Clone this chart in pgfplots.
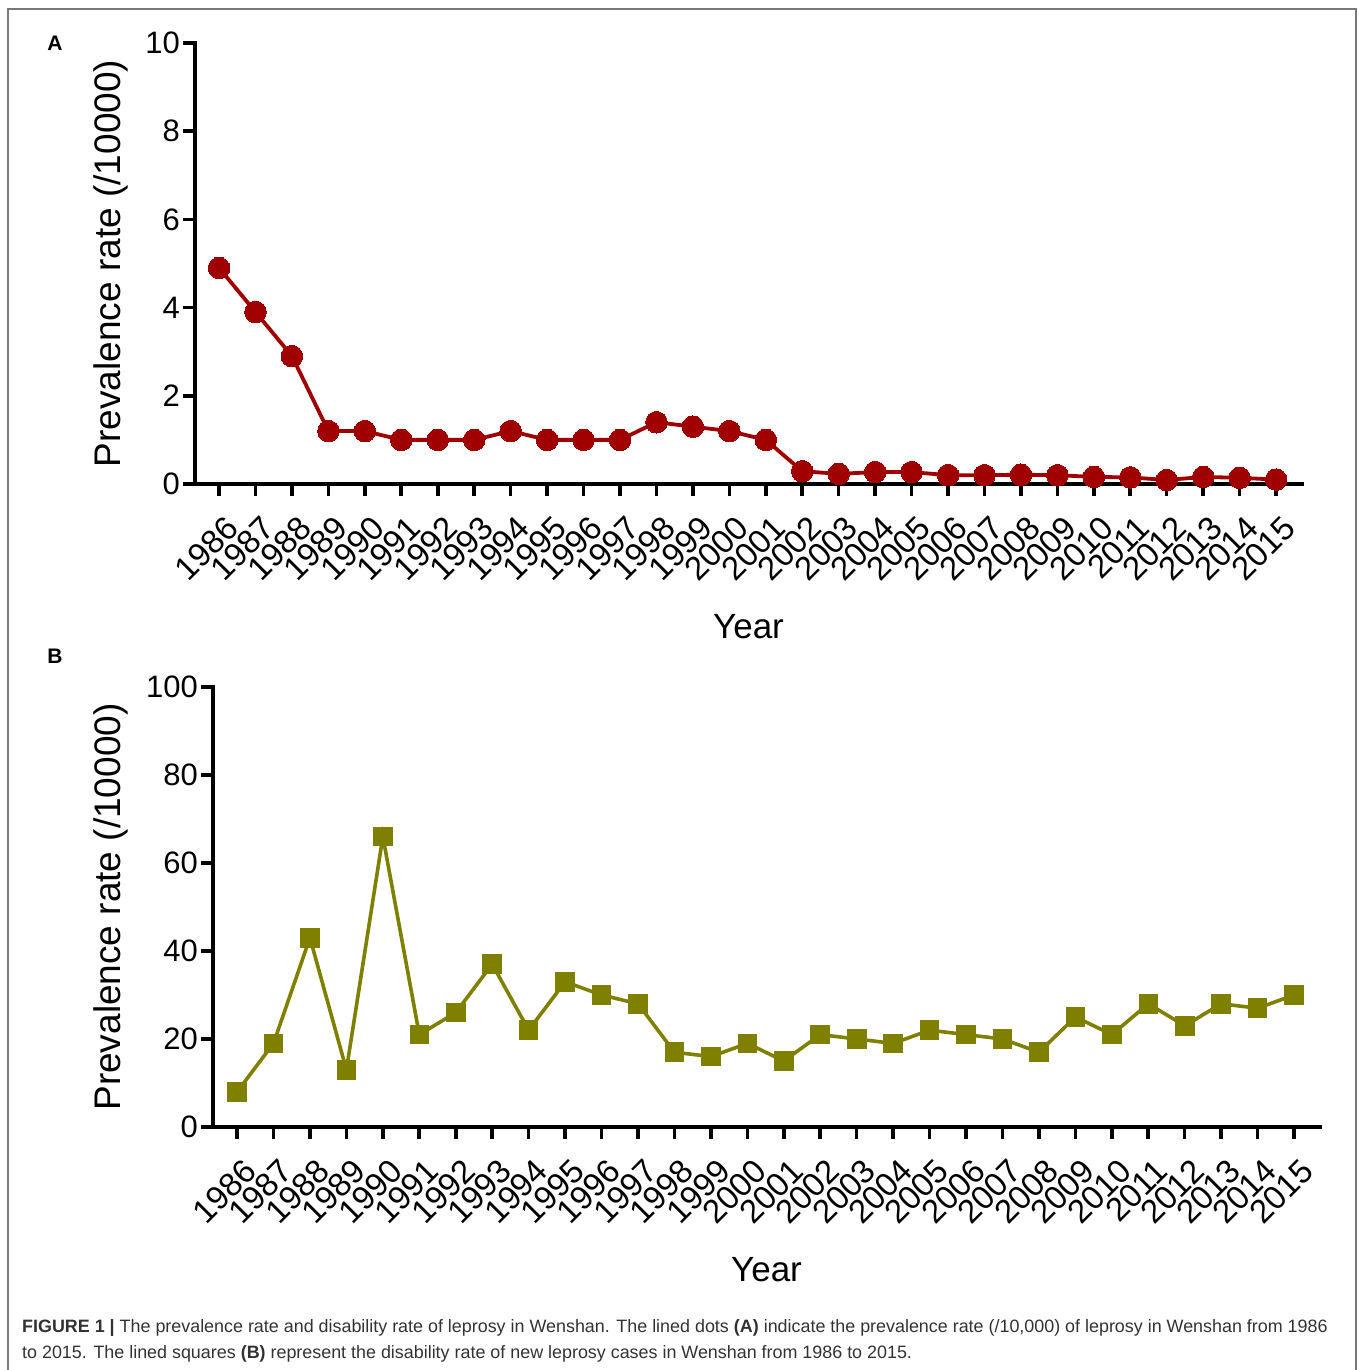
\documentclass[border=0pt]{standalone}
\usepackage{pgfplots}
\pgfplotsset{compat=1.18}
\usepackage{fontspec}
\setmainfont{Liberation Sans}
\definecolor{cA}{RGB}{160,0,0}
\definecolor{cB}{RGB}{128,128,0}
\definecolor{frame}{RGB}{120,120,120}
\definecolor{captxt}{RGB}{50,50,50}
\pgfplotsset{
  base/.style={
    scale only axis, width=1107pt,
    axis lines=left, axis line style={-, line width=3.8pt, line cap=rect},
    xmin=1985.34, xmax=2015.71,
    xtick={1986,...,2015},
    tick align=outside, major tick length=12pt,
    every tick/.style={black, line width=3.6pt},
    /pgf/number format/assume math mode=true,
    /pgf/number format/1000 sep={},
    xticklabel style={font=\fontsize{33}{33}\selectfont, rotate=45, anchor=east, inner sep=1pt, yshift=-28pt, xshift=-8pt},
    yticklabel style={font=\fontsize{31}{31}\selectfont, inner sep=3pt},
    xlabel={Year},
    ylabel={Prevalence rate (/10000)},
    every axis x label/.style={at={(axis description cs:0.5,-0.3243)}, anchor=center, font=\fontsize{35}{35}\selectfont},
    clip=false,
  }
}
\begin{document}
\begin{tikzpicture}[x=1pt,y=1pt]
\useasboundingbox (0pt,0pt) rectangle (1358pt,1370pt);
\draw[frame, line width=1.6pt] (8pt,-5pt) -- (8pt,1361pt) -- (1356pt,1361pt) -- (1356pt,-5pt);
\node[font=\bfseries\fontsize{21}{21}\selectfont] at (55pt,1327pt) {A};
\node[font=\bfseries\fontsize{21}{21}\selectfont] at (55pt,714pt) {B};
% Panel A
\begin{axis}[base, at={(195pt,886pt)}, anchor=south west, height=441pt,
  ymin=0, ymax=10, ytick={0,2,...,10},
  every axis y label/.style={at={(axis description cs:-0.0759,0.5)}, rotate=90, anchor=center, font=\fontsize{37}{37}\selectfont}]
\addplot[cA, line width=3.8pt, mark=*, mark size=10.8pt, mark options={solid, fill=cA, draw=cA, line width=0pt}] coordinates {
(1986,4.9) (1987,3.9) (1988,2.9) (1989,1.2) (1990,1.2) (1991,1.0) (1992,1.0) (1993,1.0) (1994,1.2) (1995,1.0)
(1996,1.0) (1997,1.0) (1998,1.4) (1999,1.3) (2000,1.2) (2001,1.0) (2002,0.29) (2003,0.23) (2004,0.27) (2005,0.27)
(2006,0.2) (2007,0.2) (2008,0.21) (2009,0.2) (2010,0.16) (2011,0.15) (2012,0.09) (2013,0.16) (2014,0.14) (2015,0.1)};
\end{axis}
% Panel B
\begin{axis}[base, at={(213pt,243pt)}, anchor=south west, height=440pt,
  ymin=0, ymax=100, ytick={0,20,...,100},
  every axis y label/.style={at={(axis description cs:-0.0921,0.5)}, rotate=90, anchor=center, font=\fontsize{37}{37}\selectfont}]
\addplot[cB, line width=3.6pt, mark=square*, mark size=9.3pt, mark options={solid, fill=cB, draw=cB, line width=0pt}] coordinates {
(1986,8) (1987,19) (1988,43) (1989,13) (1990,66) (1991,21) (1992,26) (1993,37) (1994,22) (1995,33)
(1996,30) (1997,28) (1998,17) (1999,16) (2000,19) (2001,15) (2002,21) (2003,20) (2004,19) (2005,22)
(2006,21) (2007,20) (2008,17) (2009,25) (2010,21) (2011,28) (2012,23) (2013,28) (2014,27) (2015,30)};
\end{axis}
\node[anchor=base west, align=left, text=captxt, font=\fontsize{17.9}{26}\selectfont, inner sep=0pt] at (22pt,11pt) {\textbf{FIGURE 1 |} The prevalence rate and disability rate of leprosy in Wenshan. The lined dots \textbf{(A)} indicate the prevalence rate (/10,000) of leprosy in Wenshan from 1986\\to 2015. The lined squares \textbf{(B)} represent the disability rate of new leprosy cases in Wenshan from 1986 to 2015.};
\end{tikzpicture}
\end{document}
